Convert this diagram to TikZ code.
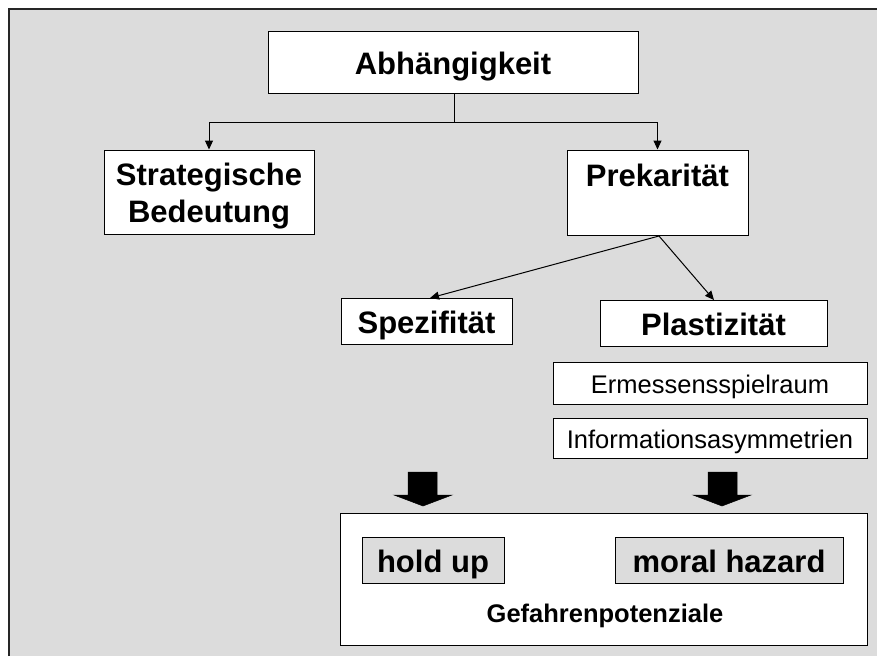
\documentclass[tikz,border=0pt]{standalone}
\usepackage{fontspec}
\setmainfont{Liberation Sans}
\usetikzlibrary{arrows.meta}
\definecolor{bg}{HTML}{DCDCDC}
\tikzset{
  box/.style={draw=black, line width=1pt, fill=white, inner sep=0pt, align=center},
  bigtxt/.style={font=\fontsize{31}{37}\selectfont\bfseries},
  bigone/.style={bigtxt, text height=25pt, text depth=0pt},
  smalltxt/.style={font=\fontsize{25.5}{30}\selectfont, text height=20pt, text depth=0pt},
  conn/.style={draw=black, line width=1pt, -{Triangle[length=9pt,width=8pt]}},
  blockarrow/.style={fill=black, draw=black, line width=0.5pt}
}
\begin{document}
\begin{tikzpicture}[x=1pt,y=-1pt]
\useasboundingbox (0,0) rectangle (878,656);
\fill[white] (0,0) rectangle (878,656);
\fill[bg] (9,9) rectangle (877,656);
\draw[black!85, line width=1.6pt] (9,656) -- (9,9) -- (877,9);

\node[box, bigone, minimum width=370pt, minimum height=62pt] (abh) at (453,62) {Abhängigkeit};
\node[box, minimum width=210pt, minimum height=84pt] (strat) at (209,192) {};
\node[bigtxt, align=center, inner sep=0pt, anchor=base] (strattxt) at (209,222) {Strategische\\Bedeutung};
\node[box, minimum width=181pt, minimum height=85pt] (prek) at (657.5,192.5) {};
\node[bigone, inner sep=0pt] (prektxt) at (657.5,174) {Prekarität};
\node[box, bigone, minimum width=171pt, minimum height=46pt] (spez) at (426.5,321) {Spezifität};
\node[box, bigone, minimum width=227pt, minimum height=46pt] (plast) at (713.5,323) {Plastizität};
\node[box, smalltxt, minimum width=314pt, minimum height=42pt] (erm) at (710,383) {Ermessensspielraum};
\node[box, smalltxt, minimum width=314pt, minimum height=40pt] (info) at (710,438) {Informationsasymmetrien};
\node[box, minimum width=527pt, minimum height=132pt] (gef) at (603.5,579) {};
\node[box, bigone, fill=bg, minimum width=142pt, minimum height=46pt] (hold) at (433,560) {hold up};
\node[box, bigone, fill=bg, minimum width=228pt, minimum height=46pt] (moral) at (729,560) {moral hazard};
\node[font=\fontsize{25.5}{30}\selectfont\bfseries, inner sep=0pt, anchor=base] (geftxt) at (605,622) {Gefahrenpotenziale};

\coordinate (j) at (454,122);
\draw[line width=1pt] (abh.south -| j) -- (j);
\draw[conn] (j) -| (strat.north);
\draw[conn] (j) -| (prek.north);
\coordinate (ps) at (659,236);
\draw[conn] (ps) -- (430,298);
\draw[conn] (ps) -- (714,300);

\fill[blockarrow] (408,472) -- (437,472) -- (437,495) -- (452,495) -- (423,506) -- (394,495) -- (408,495) -- cycle;
\fill[blockarrow] (708,472) -- (737,472) -- (737,495) -- (751,495) -- (722,506) -- (693,495) -- (708,495) -- cycle;
\end{tikzpicture}
\end{document}
